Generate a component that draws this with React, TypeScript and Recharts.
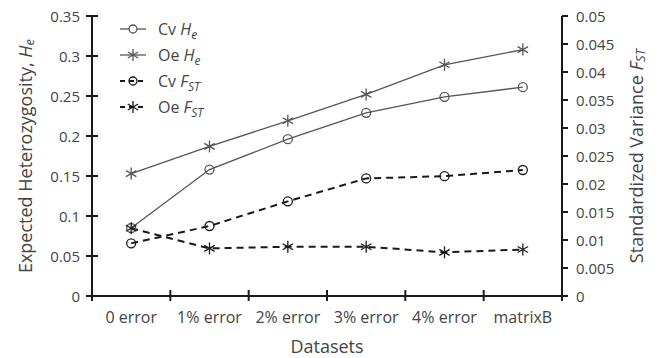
import React from 'react';
import { LineChart, Line, XAxis, YAxis, Legend } from 'recharts';

const categories = ['0 error', '1% error', '2% error', '3% error', '4% error', 'matrixB'];
const cvHe = [0.085, 0.158, 0.196, 0.229, 0.249, 0.261];
const oeHe = [0.153, 0.187, 0.219, 0.252, 0.289, 0.308];
const cvFst = [0.0094, 0.0125, 0.0169, 0.021, 0.0214, 0.0225];
const oeFst = [0.0121, 0.0085, 0.0088, 0.0088, 0.0078, 0.0083];
const leftTicks = [0, 0.05, 0.1, 0.15, 0.2, 0.25, 0.3, 0.35];
const rightTicks = [0, 0.005, 0.01, 0.015, 0.02, 0.025, 0.03, 0.035, 0.04, 0.045, 0.05];
const xTicks = [0, 0.5, 1, 1.5, 2, 2.5, 3, 3.5, 4, 4.5, 5, 5.5, 6];

const data = categories.map((c, i) => ({
  x: i + 0.5,
  name: c,
  cvHe: cvHe[i],
  oeHe: oeHe[i],
  cvFst: cvFst[i],
  oeFst: oeFst[i],
}));

const FONT = '"Open Sans", sans-serif';
const AXIS = '#1a1a1a';
const TEXT = '#444';
const SOLID = '#555';
const DASH = '#1a1a1a';

const LeftTick = (p: any) => (
  <g>
    <line x1={p.x - 6} x2={p.x + 6} y1={p.y} y2={p.y} stroke={AXIS} strokeWidth={2} />
    <text x={p.x - 12} y={p.y} textAnchor="end" dominantBaseline="central" fontSize={15} fill={TEXT} fontFamily={FONT}>
      {String(p.payload.value)}
    </text>
  </g>
);

const RightTick = (p: any) => (
  <g>
    <line x1={p.x} x2={p.x + 6} y1={p.y} y2={p.y} stroke={AXIS} strokeWidth={2} />
    <text x={p.x + 14} y={p.y} textAnchor="start" dominantBaseline="central" fontSize={15} fill={TEXT} fontFamily={FONT}>
      {String(p.payload.value)}
    </text>
  </g>
);

const BottomTick = (p: any) => {
  const v = p.payload.value;
  if (Number.isInteger(v)) {
    return <line x1={p.x} x2={p.x} y1={p.y - 6} y2={p.y + 5} stroke={AXIS} strokeWidth={2} />;
  }
  return (
    <text x={p.x} y={p.y + 21} textAnchor="middle" dominantBaseline="central" fontSize={16} fill={TEXT} fontFamily={FONT}>
      {categories[Math.floor(v)]}
    </text>
  );
};

const CircleDot = (color: string) => (p: any) => (
  <circle key={`c${p.index}`} cx={p.cx} cy={p.cy} r={4.5} fill="none" stroke={color} strokeWidth={1.3} />
);

const StarDot = (color: string) => (p: any) => {
  const r = 6;
  const a = Math.PI / 6;
  const dx = r * Math.cos(a);
  const dy = r * Math.sin(a);
  return (
    <g key={`s${p.index}`} stroke={color} strokeWidth={1.3}>
      <line x1={p.cx} x2={p.cx} y1={p.cy - r} y2={p.cy + r} />
      <line x1={p.cx - dx} x2={p.cx + dx} y1={p.cy - dy} y2={p.cy + dy} />
      <line x1={p.cx - dx} x2={p.cx + dx} y1={p.cy + dy} y2={p.cy - dy} />
    </g>
  );
};

const legendItems = [
  { label: 'Cv', sub: 'e', main: 'H', dashed: false, marker: 'circle' },
  { label: 'Oe', sub: 'e', main: 'H', dashed: false, marker: 'star' },
  { label: 'Cv', sub: 'ST', main: 'F', dashed: true, marker: 'circle' },
  { label: 'Oe', sub: 'ST', main: 'F', dashed: true, marker: 'star' },
];

const LegendContent = () => (
  <div style={{ fontFamily: FONT, color: TEXT, fontSize: 16, lineHeight: '20px' }}>
    {legendItems.map((it, i) => {
      const color = it.dashed ? DASH : SOLID;
      return (
        <div key={i} style={{ display: 'flex', alignItems: 'center', height: 26 }}>
          <svg width={26} height={20} style={{ marginRight: 12 }}>
            <line x1={0} x2={26} y1={10} y2={10} stroke={color} strokeWidth={it.dashed ? 2 : 1.3} strokeDasharray={it.dashed ? '5 4' : undefined} />
            {it.marker === 'circle'
              ? <circle cx={13} cy={10} r={4} fill={it.dashed ? 'none' : '#fff'} stroke={color} strokeWidth={1.3} />
              : StarDot(color)({ cx: 13, cy: 10, index: i })}
          </svg>
          <span>
            {it.label} <i>{it.main}<sub style={{ fontSize: 12, lineHeight: 0 }}>{it.sub}</sub></i>
          </span>
        </div>
      );
    })}
  </div>
);

const LeftLabel = (props: any) => {
  const vb = props.viewBox;
  const cx = vb.x + 25;
  const cy = vb.y + vb.height / 2;
  return (
    <text x={cx} y={cy} transform={`rotate(-90 ${cx} ${cy})`} textAnchor="middle" dominantBaseline="central" fontSize={18} fill={TEXT} fontFamily={FONT}>
      Expected Heterozygosity, <tspan fontStyle="italic">H</tspan><tspan fontStyle="italic" fontSize={13} dy={4}>e</tspan>
    </text>
  );
};

const RightLabel = (props: any) => {
  const vb = props.viewBox;
  const cx = vb.x + 74;
  const cy = vb.y + vb.height / 2;
  return (
    <text x={cx} y={cy} transform={`rotate(-90 ${cx} ${cy})`} textAnchor="middle" dominantBaseline="central" fontSize={18} fill={TEXT} fontFamily={FONT}>
      Standardized Variance <tspan fontStyle="italic">F</tspan><tspan fontStyle="italic" fontSize={13} dy={4}>ST</tspan>
    </text>
  );
};

const BottomLabel = (props: any) => {
  const vb = props.viewBox;
  const cx = vb.x + vb.width / 2;
  return (
    <text x={cx} y={vb.y + 50} textAnchor="middle" dominantBaseline="central" fontSize={18} fill={TEXT} fontFamily={FONT}>
      Datasets
    </text>
  );
};

export default function App() {
  return (
    <div style={{ position: 'absolute', left: 0, top: 0, background: '#fff' }}>
      <LineChart width={661} height={358} data={data} margin={{ top: 16, right: 0, bottom: 0, left: 0 }}>
        <XAxis
          xAxisId="x"
          dataKey="x"
          type="number"
          domain={[0, 6]}
          ticks={xTicks}
          interval={0}
          height={62}
          tickSize={0}
          tickMargin={0}
          tickLine={false}
          axisLine={{ stroke: AXIS, strokeWidth: 2 }}
          tick={BottomTick}
          label={{ content: BottomLabel }}
        />
        <YAxis
          yAxisId="left"
          orientation="left"
          width={92}
          domain={[0, 0.35]}
          ticks={leftTicks}
          interval={0}
          tickSize={0}
          tickMargin={0}
          tickLine={false}
          axisLine={{ stroke: AXIS, strokeWidth: 2 }}
          tick={LeftTick}
          label={{ content: LeftLabel }}
        />
        <YAxis
          yAxisId="right"
          orientation="right"
          width={99}
          domain={[0, 0.05]}
          ticks={rightTicks}
          interval={0}
          tickSize={0}
          tickMargin={0}
          tickLine={false}
          axisLine={{ stroke: AXIS, strokeWidth: 2 }}
          tick={RightTick}
          label={{ content: RightLabel }}
        />
        <Legend
          layout="vertical"
          align="center"
          verticalAlign="middle"
          content={LegendContent}
          wrapperStyle={{ left: 120, top: 16, width: 'auto' }}
        />
        <Line xAxisId="x" yAxisId="left" dataKey="cvHe" stroke={SOLID} strokeWidth={1.3} dot={CircleDot(SOLID)} isAnimationActive={false} />
        <Line xAxisId="x" yAxisId="left" dataKey="oeHe" stroke={SOLID} strokeWidth={1.3} dot={StarDot(SOLID)} isAnimationActive={false} />
        <Line xAxisId="x" yAxisId="right" dataKey="cvFst" stroke={DASH} strokeWidth={2} strokeDasharray="7 5" dot={CircleDot(DASH)} isAnimationActive={false} />
        <Line xAxisId="x" yAxisId="right" dataKey="oeFst" stroke={DASH} strokeWidth={2} strokeDasharray="7 5" dot={StarDot(DASH)} isAnimationActive={false} />
      </LineChart>
    </div>
  );
}
